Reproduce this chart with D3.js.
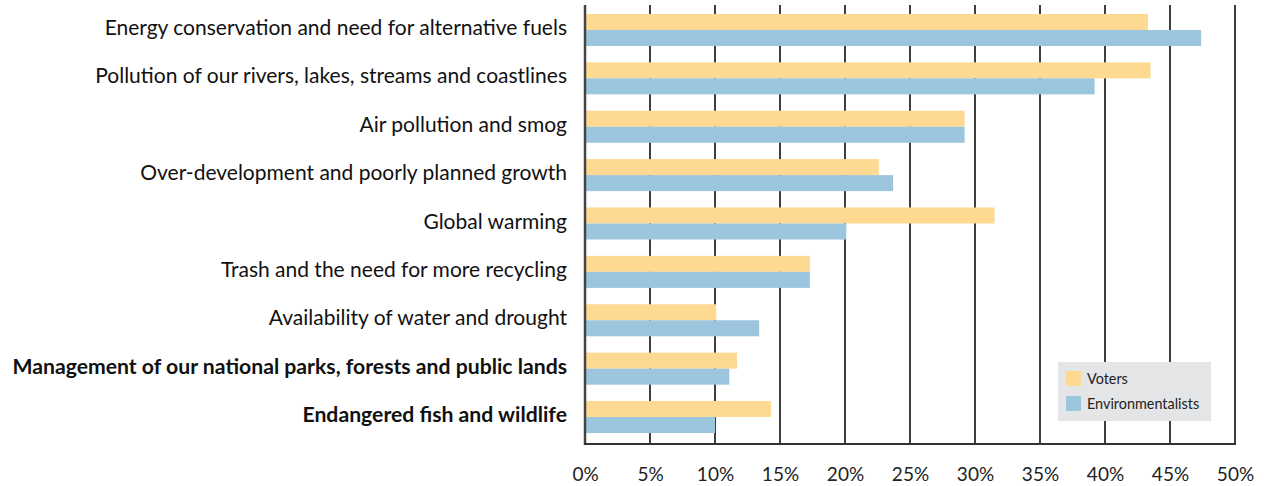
<!DOCTYPE html>
<html>
<head>
<meta charset="utf-8">
<script src="https://cdn.jsdelivr.net/npm/d3@7"></script>
<style>
  html, body { margin: 0; padding: 0; background: #fff; }
  svg { display: block; font-family: Lato, "Open Sans", sans-serif; }
</style>
</head>
<body>
<svg id="chart" width="1264" height="486"></svg>
<script>
// Environmental concerns: share naming each issue, voters vs environmentalists
const categories = [
  "Energy conservation and need for alternative fuels",
  "Pollution of our rivers, lakes, streams and coastlines",
  "Air pollution and smog",
  "Over-development and poorly planned growth",
  "Global warming",
  "Trash and the need for more recycling",
  "Availability of water and drought",
  "Management of our national parks, forests and public lands",
  "Endangered fish and wildlife"
];
const boldCategories = [
  "Management of our national parks, forests and public lands",
  "Endangered fish and wildlife"
];
const voters = [43.3, 43.5, 29.2, 22.6, 31.5, 17.3, 10.1, 11.7, 14.3];
const environmentalists = [47.4, 39.2, 29.2, 23.7, 20.1, 17.3, 13.4, 11.1, 10.0];
const seriesNames = ["Voters", "Environmentalists"];
const seriesColors = ["#fdd991", "#9bc6de"];
const tickValues = [0, 5, 10, 15, 20, 25, 30, 35, 40, 45, 50];

const svg = d3.select("#chart");

const x = d3.scaleLinear().domain([0, 50]).range([585, 1235]);
const plotTop = 5, plotBottom = 444;

const y = d3.scaleBand()
  .domain(categories)
  .range([4, 443])
  .paddingInner(0.338)
  .paddingOuter(0.206);

const inner = d3.scaleBand()
  .domain(seriesNames)
  .range([0, y.bandwidth()]);

// vertical gridlines
svg.append("g")
  .selectAll("line")
  .data(tickValues.filter(d => d > 0))
  .join("line")
  .attr("x1", d => x(d)).attr("x2", d => x(d))
  .attr("y1", plotTop).attr("y2", plotBottom)
  .attr("stroke", "#2a2a2a")
  .attr("stroke-width", 1.8);

// bars
const rows = categories.map((c, i) => ({ cat: c, values: [voters[i], environmentalists[i]] }));
const groups = svg.append("g")
  .selectAll("g")
  .data(rows)
  .join("g")
  .attr("transform", d => `translate(0,${y(d.cat)})`);

groups.selectAll("rect")
  .data(d => d.values.map((v, j) => ({ name: seriesNames[j], value: v, color: seriesColors[j] })))
  .join("rect")
  .attr("x", x(0))
  .attr("y", d => inner(d.name))
  .attr("width", d => x(d.value) - x(0))
  .attr("height", inner.bandwidth())
  .attr("fill", d => d.color);

// axis lines
svg.append("line")
  .attr("x1", x(0)).attr("x2", x(0))
  .attr("y1", plotTop).attr("y2", plotBottom + 1)
  .attr("stroke", "#444").attr("stroke-width", 2.5);
svg.append("line")
  .attr("x1", x(0) - 1).attr("x2", x(50) + 1)
  .attr("y1", plotBottom).attr("y2", plotBottom)
  .attr("stroke", "#333").attr("stroke-width", 2);

// x axis via d3.axisBottom, line/ticks hidden
const xAxis = d3.axisBottom(x)
  .tickValues(tickValues)
  .tickFormat(d => d + "%")
  .tickSize(0)
  .tickPadding(0);
const gx = svg.append("g")
  .attr("transform", `translate(0,${plotBottom})`)
  .call(xAxis);
gx.select(".domain").remove();
gx.selectAll("text")
  .attr("y", 37)
  .attr("dy", 0)
  .attr("fill", "#222")
  .style("font-size", "19px")
  .style("font-family", "Lato, sans-serif");

// category labels via d3.axisLeft
const yAxis = d3.axisLeft(y).tickSize(0).tickPadding(0);
const gy = svg.append("g")
  .attr("transform", `translate(567,0)`)
  .call(yAxis);
gy.select(".domain").remove();
gy.selectAll("text")
  .attr("dy", 5)
  .attr("y", 0)
  .attr("fill", "#111")
  .style("font-size", d => boldCategories.includes(d) ? "21.2px" : "21px")
  .style("font-family", "Lato, sans-serif")
  .style("font-weight", d => boldCategories.includes(d) ? "700" : "400");

// legend
const legend = svg.append("g").attr("transform", "translate(1058,362)");
legend.append("rect")
  .attr("width", 153).attr("height", 59)
  .attr("fill", "#e4e5e7");
seriesNames.forEach((name, i) => {
  legend.append("rect")
    .attr("x", 8).attr("y", 9 + i * 25)
    .attr("width", 15).attr("height", 15)
    .attr("fill", seriesColors[i]);
  legend.append("text")
    .attr("x", 29).attr("y", 22 + i * 25)
    .attr("fill", "#222")
    .style("font-size", "14.4px")
    .text(name);
});
</script>
</body>
</html>
